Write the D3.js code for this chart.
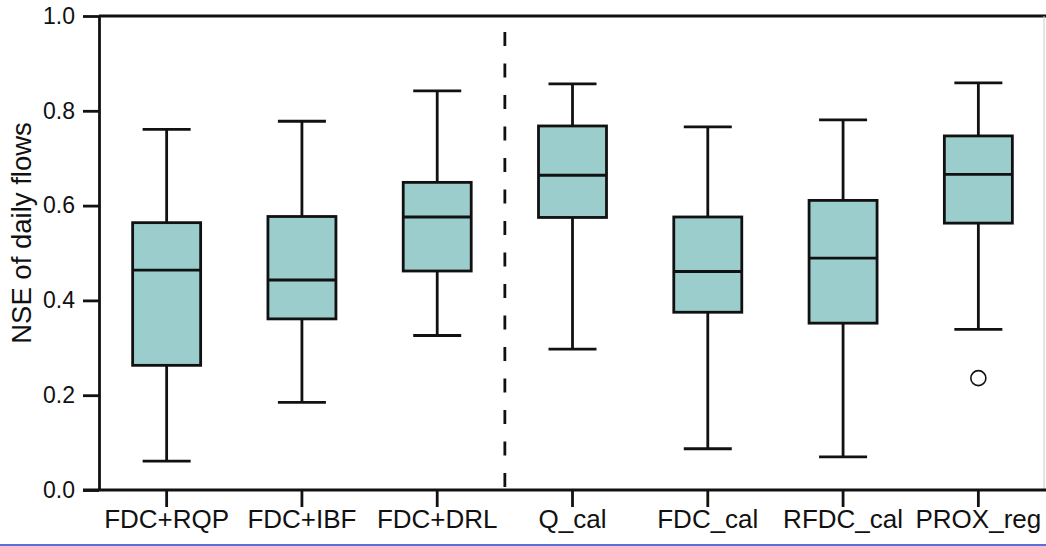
<!DOCTYPE html>
<html>

<head>
  <title>NSE of daily flows</title>
  <style>
    body { margin: 0; background: #fff; }
    svg { display: block; font-family: "Liberation Sans", Arial, sans-serif; }
  </style>
</head>

<body>
  <svg id="svg"></svg>

  <script src="https://d3js.org/d3.v7.min.js"></script>
  <script>
    // values
    let categories = ["FDC+RQP", "FDC+IBF", "FDC+DRL", "Q_cal", "FDC_cal", "RFDC_cal", "PROX_reg"];
    let whiskerLow = [0.061, 0.185, 0.326, 0.297, 0.087, 0.070, 0.339];
    let q1 = [0.263, 0.361, 0.462, 0.575, 0.375, 0.352, 0.563];
    let median = [0.464, 0.443, 0.576, 0.664, 0.461, 0.489, 0.666];
    let q3 = [0.564, 0.577, 0.649, 0.768, 0.576, 0.611, 0.747];
    let whiskerHigh = [0.761, 0.778, 0.842, 0.857, 0.766, 0.781, 0.859];
    let outliers = [[], [], [], [], [], [], [0.236]];
    let yTicks = [0, 0.2, 0.4, 0.6, 0.8, 1.0];
    let splitAfter = "FDC+DRL"; // dashed line between groups

    let width = 1046, height = 546;
    let margin = { top: 16, right: 0, bottom: 56, left: 99 };
    let boxWidth = 68, capWidth = 48;
    let fill = "#9bcdcc";
    let sw = 2.8;

    let svg = d3.select("#svg").attr("width", width).attr("height", height);

    let xScale = d3.scaleBand().domain(categories).range([margin.left, width - margin.right]).padding(0);
    let yScale = d3.scaleLinear().domain([0, 1]).range([height - margin.bottom, margin.top]);
    let cx = d => xScale(d) + xScale.bandwidth() / 2;

    let data = categories.map((c, i) => ({
      name: c, lo: whiskerLow[i], q1: q1[i], med: median[i], q3: q3[i], hi: whiskerHigh[i], out: outliers[i]
    }));

    // frame: top and right edges
    svg.append("line")
      .attr("x1", margin.left).attr("x2", width)
      .attr("y1", yScale(1)).attr("y2", yScale(1))
      .attr("stroke", "#111").attr("stroke-width", sw);
    svg.append("line")
      .attr("x1", width - 2).attr("x2", width - 2)
      .attr("y1", yScale(1)).attr("y2", yScale(0))
      .attr("stroke", "#ccc").attr("stroke-width", 1);

    // dashed separator
    let sx = xScale(splitAfter) + xScale.bandwidth();
    svg.append("line")
      .attr("x1", sx).attr("x2", sx)
      .attr("y1", 32).attr("y2", yScale(0))
      .attr("stroke", "#111").attr("stroke-width", sw)
      .attr("stroke-dasharray", "14,17.5");

    let boxes = svg.append("g").selectAll("g")
      .data(data)
      .join("g");

    // whiskers
    boxes.append("line")
      .attr("x1", d => cx(d.name)).attr("x2", d => cx(d.name))
      .attr("y1", d => yScale(d.lo)).attr("y2", d => yScale(d.hi))
      .attr("stroke", "#111").attr("stroke-width", sw);
    boxes.selectAll(".cap")
      .data(d => [d.lo, d.hi].map(v => ({ name: d.name, v })))
      .join("line")
      .attr("class", "cap")
      .attr("x1", d => cx(d.name) - capWidth / 2).attr("x2", d => cx(d.name) + capWidth / 2)
      .attr("y1", d => yScale(d.v)).attr("y2", d => yScale(d.v))
      .attr("stroke", "#111").attr("stroke-width", sw);

    // box
    boxes.append("rect")
      .attr("x", d => cx(d.name) - boxWidth / 2)
      .attr("width", boxWidth)
      .attr("y", d => yScale(d.q3))
      .attr("height", d => yScale(d.q1) - yScale(d.q3))
      .attr("fill", fill)
      .attr("stroke", "#111").attr("stroke-width", sw);

    // median
    boxes.append("line")
      .attr("x1", d => cx(d.name) - boxWidth / 2).attr("x2", d => cx(d.name) + boxWidth / 2)
      .attr("y1", d => yScale(d.med)).attr("y2", d => yScale(d.med))
      .attr("stroke", "#111").attr("stroke-width", sw);

    // outliers
    boxes.selectAll(".out")
      .data(d => d.out.map(v => ({ name: d.name, v })))
      .join("circle")
      .attr("class", "out")
      .attr("cx", d => cx(d.name))
      .attr("cy", d => yScale(d.v))
      .attr("r", 7.5)
      .attr("fill", "#fff")
      .attr("stroke", "#111").attr("stroke-width", 1.6);

    // axes
    let yAxis = svg.append("g")
      .attr("transform", `translate(${margin.left},0)`)
      .call(d3.axisLeft(yScale).tickValues(yTicks).tickFormat(d3.format(".1f")).tickSize(16).tickSizeOuter(0).tickPadding(8));
    yAxis.selectAll("path, line").attr("stroke", "#111").attr("stroke-width", sw);
    yAxis.selectAll("text").attr("font-size", 23).attr("fill", "#111").attr("font-family", null);

    let xAxis = svg.append("g")
      .attr("transform", `translate(0,${yScale(0)})`)
      .call(d3.axisBottom(xScale).tickSize(17).tickSizeOuter(0).tickPadding(3));
    xAxis.select(".domain").attr("d", `M${margin.left - 16},0H${width}`);
    xAxis.selectAll("path, line").attr("stroke", "#111").attr("stroke-width", sw);
    xAxis.selectAll("text").attr("font-size", 26).attr("fill", "#111").attr("font-family", null);

    // y axis title
    svg.append("text")
      .attr("transform", `translate(31,233) rotate(-90)`)
      .attr("text-anchor", "middle")
      .attr("font-size", 27.5)
      .attr("fill", "#111")
      .text("NSE of daily flows");

    // thin blue rule at the very bottom of the original image
    svg.append("line")
      .attr("x1", 0).attr("x2", width)
      .attr("y1", 545).attr("y2", 545)
      .attr("stroke", "#2040d0").attr("stroke-width", 1.5);
  </script>
</body>

</html>
